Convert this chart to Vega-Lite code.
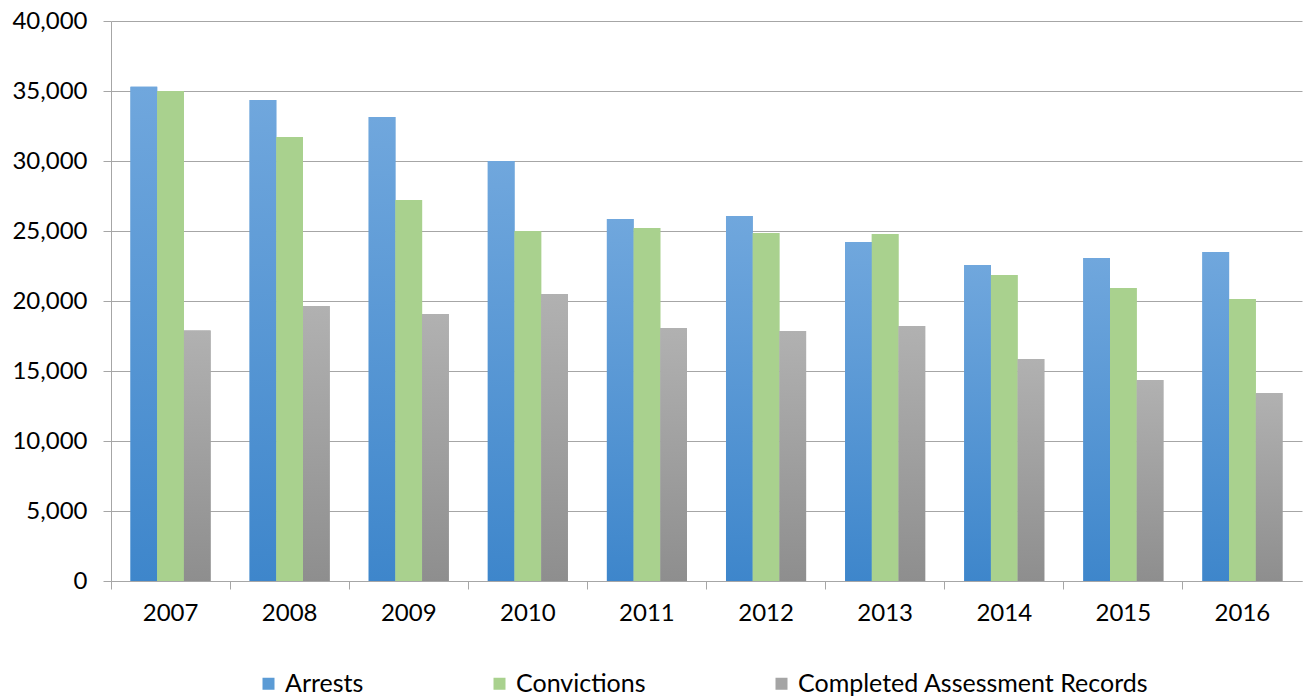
{
  "$schema": "https://vega.github.io/schema/vega-lite/v6.json",
  "width": 1191,
  "height": 560,
  "autosize": {"type": "none"},
  "padding": {"left": 111, "top": 21, "right": 3, "bottom": 119},
  "background": "white",
  "config": {
    "view": {"stroke": null},
    "font": "Lato",
    "axis": {"labelFont": "Lato", "labelFontSize": 24, "labelColor": "#000000", "titleFont": "Lato"},
    "legend": {"labelFont": "Lato", "labelFontSize": 25, "labelColor": "#000000"}
  },
  "data": {
    "values": [
      {"year": "2007", "series": "Arrests", "value": 35300},
      {"year": "2007", "series": "Convictions", "value": 35000},
      {"year": "2007", "series": "Completed Assessment Records", "value": 17900},
      {"year": "2008", "series": "Arrests", "value": 34360},
      {"year": "2008", "series": "Convictions", "value": 31710},
      {"year": "2008", "series": "Completed Assessment Records", "value": 19640},
      {"year": "2009", "series": "Arrests", "value": 33140},
      {"year": "2009", "series": "Convictions", "value": 27210},
      {"year": "2009", "series": "Completed Assessment Records", "value": 19070},
      {"year": "2010", "series": "Arrests", "value": 30000},
      {"year": "2010", "series": "Convictions", "value": 25000},
      {"year": "2010", "series": "Completed Assessment Records", "value": 20500},
      {"year": "2011", "series": "Arrests", "value": 25860},
      {"year": "2011", "series": "Convictions", "value": 25210},
      {"year": "2011", "series": "Completed Assessment Records", "value": 18070},
      {"year": "2012", "series": "Arrests", "value": 26070},
      {"year": "2012", "series": "Convictions", "value": 24860},
      {"year": "2012", "series": "Completed Assessment Records", "value": 17860},
      {"year": "2013", "series": "Arrests", "value": 24210},
      {"year": "2013", "series": "Convictions", "value": 24790},
      {"year": "2013", "series": "Completed Assessment Records", "value": 18210},
      {"year": "2014", "series": "Arrests", "value": 22570},
      {"year": "2014", "series": "Convictions", "value": 21860},
      {"year": "2014", "series": "Completed Assessment Records", "value": 15860},
      {"year": "2015", "series": "Arrests", "value": 23070},
      {"year": "2015", "series": "Convictions", "value": 20930},
      {"year": "2015", "series": "Completed Assessment Records", "value": 14360},
      {"year": "2016", "series": "Arrests", "value": 23500},
      {"year": "2016", "series": "Convictions", "value": 20140},
      {"year": "2016", "series": "Completed Assessment Records", "value": 13430}
    ]
  },
  "encoding": {
    "x": {
      "field": "year", "type": "ordinal",
      "scale": {"paddingInner": 0, "paddingOuter": 0},
      "axis": {
        "title": null, "labelAngle": 0, "bandPosition": 0,
        "domainColor": "#a6a6a6", "tickColor": "#a6a6a6", "tickSize": 8,
        "labelPadding": 12, "grid": false
      }
    },
    "xOffset": {
      "field": "series", "type": "nominal",
      "scale": {"domain": ["Arrests", "Convictions", "Completed Assessment Records"], "paddingInner": 0, "paddingOuter": 0.73}
    },
    "y": {
      "field": "value", "type": "quantitative",
      "scale": {"domain": [0, 40000], "nice": false},
      "axis": {
        "title": null, "values": [0, 5000, 10000, 15000, 20000, 25000, 30000, 35000, 40000],
        "format": ",.0f", "grid": true, "gridColor": "#a6a6a6", "domainColor": "#a6a6a6",
        "tickColor": "#a6a6a6", "tickSize": 8, "labelPadding": 16
      }
    }
  },
  "layer": [
    {
      "mark": {"type": "bar"},
      "encoding": {
        "color": {
          "field": "series", "type": "nominal",
          "scale": {"domain": ["Arrests", "Convictions", "Completed Assessment Records"], "range": ["#5b9bd5", "#a9d18e", "#a5a5a5"]},
          "legend": {
            "title": null, "orient": "none", "direction": "horizontal",
            "legendX": 145, "legendY": 650, "symbolType": "square", "symbolSize": 144,
            "symbolStrokeWidth": 0, "columnPadding": 123, "labelOffset": 4, "labelLimit": 0
          }
        }
      }
    },
    {
      "transform": [{"filter": "datum.series === 'Arrests'"}],
      "mark": {"type": "bar", "color": {"gradient": "linear", "x1": 0, "y1": 0, "x2": 0, "y2": 1, "stops": [{"offset": 0, "color": "#70a7dd"}, {"offset": 1, "color": "#3e86cb"}]}}
    },
    {
      "transform": [{"filter": "datum.series === 'Convictions'"}],
      "mark": {"type": "bar", "color": "#a9d18e"}
    },
    {
      "transform": [{"filter": "datum.series === 'Completed Assessment Records'"}],
      "mark": {"type": "bar", "color": {"gradient": "linear", "x1": 0, "y1": 0, "x2": 0, "y2": 1, "stops": [{"offset": 0, "color": "#b1b1b1"}, {"offset": 1, "color": "#8e8e8e"}]}}
    }
  ]
}
